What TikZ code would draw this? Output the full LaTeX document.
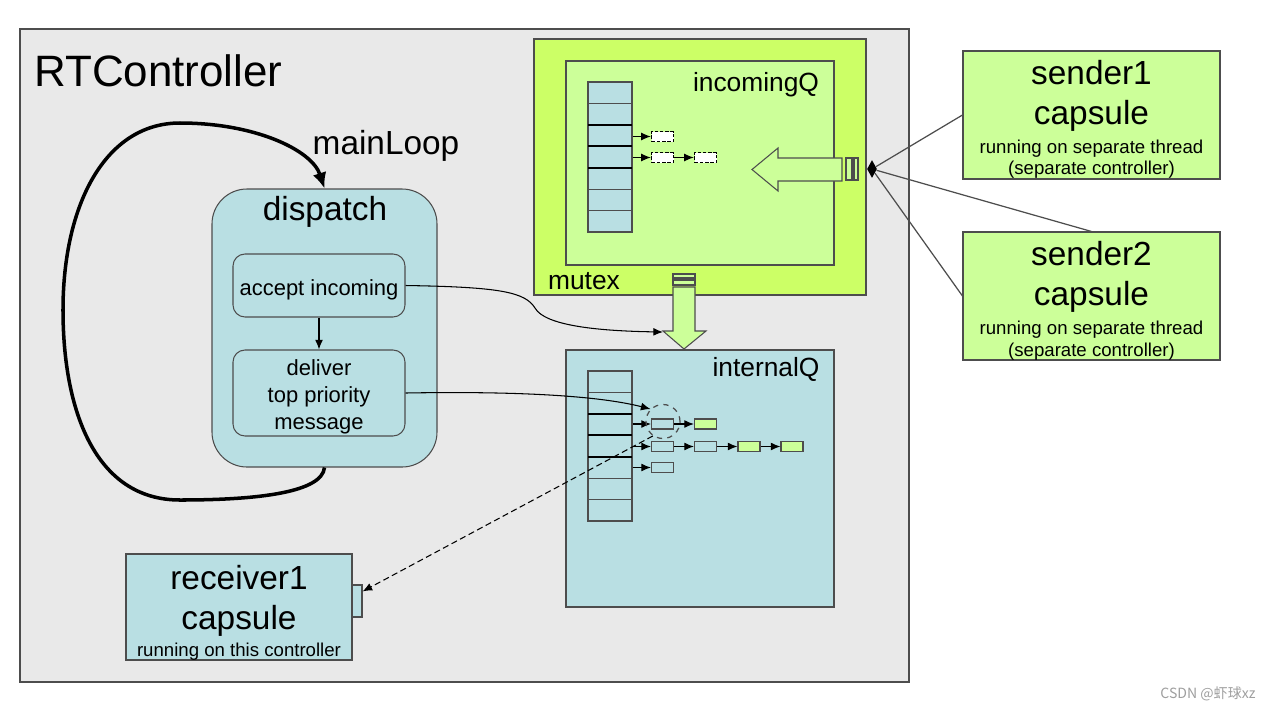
\documentclass[tikz,border=0pt]{standalone}
\usepackage{fontspec}
\setmainfont{Liberation Sans}
\newfontfamily\cjkfont{Noto Sans CJK SC}
\usetikzlibrary{shapes.geometric,arrows.meta}
\definecolor{bggray}{HTML}{E9E9E9}
\definecolor{qblue}{HTML}{B9DFE3}
\definecolor{lgreen}{HTML}{CCFF99}
\definecolor{mgreen}{HTML}{CCFF66}
\definecolor{edge}{HTML}{4D4D4D}
\newcommand{\titlesize}{\fontsize{19}{22.7}\selectfont}
\tikzset{every node/.style={align=center}, >={Latex[length=5.5pt,width=4.5pt]},
  sz/.style 2 args={minimum width=#1*0.02cm, minimum height=#2*0.02cm},
  box/.style={draw=edge, line width=0.6pt, inner sep=0pt},
  lab/.style={inner sep=0pt, font=\fontsize{15}{18}\selectfont},
  biglab/.style={inner sep=0pt, font=\titlesize},
  captxt/.style={inner sep=0pt, font=\fontsize{10.6}{22.7}\selectfont},
  steptxt/.style={inner sep=0pt, font=\fontsize{12.5}{15.3}\selectfont},
  msg/.style={box, sz={22}{10}},
  dmsg/.style={draw=black, fill=white, dashed, dash pattern=on 2pt off 1pt, line width=0.8pt, inner sep=0pt, sz={22}{10}},
  qarr/.style={->, line width=0.6pt}}

\begin{document}
\begin{tikzpicture}[x=0.02cm, y=-0.02cm]
\useasboundingbox (0,0) rectangle (1268,711);
\fill[white] (0,0) rectangle (1268,711);

% controller
\node[box, fill=bggray, sz={889}{653}] (ctrl) at (464.5,355.5) {};
\node[anchor=west, inner sep=0pt, font=\fontsize{25}{30}\selectfont] (ctrllab) at (34,71) {RTController};

% mutex and incoming queue
\node[box, fill=mgreen, sz={332}{256}] (mutex) at (700,167) {};
\node[lab] (mutexlab) at (584,281) {mutex};
\node[box, fill=lgreen, sz={268}{204}] (inq) at (700,163) {};
\node[lab] (inqlab) at (756,85) {incomingQ};
\node[box, fill=qblue, sz={44}{150}] (incol) at (610,157) {};
\foreach \i in {1,5,6} \draw[edge, line width=0.6pt] (588,82+\i*21.43) -- (632,82+\i*21.43);
\foreach \i in {2,3,4} \draw[line width=1.1pt] (588,82+\i*21.43) -- (632,82+\i*21.43);
\node[dmsg] (a1) at (662.5,136.5) {};
\node[dmsg] (a2) at (662.5,157.5) {};
\node[dmsg] (a3) at (705.5,157.5) {};
\draw[qarr] (incol.east |- a1) -- (a1);
\draw[qarr] (incol.east |- a2) -- (a2);
\draw[qarr] (a2) -- (a3);

% put arrow and port
\draw[edge, fill=lgreen, line width=0.6pt] (842,158) -- (778,158) -- (778,148) -- (752,169.5) -- (778,191) -- (778,181) -- (842,181) -- cycle;
\draw[edge, fill=lgreen, line width=0.6pt] (846,158) rectangle (852,180) (854,158) rectangle (858,180);
\node[diamond, fill=black, inner sep=0pt, sz={10}{18}] (jn) at (872,169) {};

% take arrow
\draw[edge, fill=lgreen, line width=0.6pt] (673,274) rectangle (695,278) (673,280) rectangle (695,285);
\draw[edge, fill=lgreen, line width=0.6pt] (673,287) -- (695,287) -- (695,331) -- (706,331) -- (684,349) -- (663,331) -- (673,331) -- cycle;
\coordinate (take) at (663,332);

% internal queue
\node[box, fill=qblue, sz={268}{257}] (intq) at (700,478.5) {};
\node[lab] (intqlab) at (766,369) {internalQ};
\node[box, fill=qblue, sz={44}{150}] (intcol) at (610,446) {};
\foreach \i in {1,5,6} \draw[edge, line width=0.6pt] (588,371+\i*21.43) -- (632,371+\i*21.43);
\foreach \i in {2,3,4} \draw[line width=1.1pt] (588,371+\i*21.43) -- (632,371+\i*21.43);
\node[msg, fill=qblue] (b1) at (662.5,424) {};
\node[msg, fill=lgreen] (b2) at (705.5,424) {};
\node[msg, fill=qblue] (c1) at (662.5,446.5) {};
\node[msg, fill=qblue] (c2) at (705.5,446.5) {};
\node[msg, fill=lgreen] (c3) at (749,446.5) {};
\node[msg, fill=lgreen] (c4) at (792,446.5) {};
\node[msg, fill=qblue] (d1) at (662.5,467.5) {};
\draw[qarr] (intcol.east |- b1) -- (b1);
\draw[qarr] (b1) -- (b2);
\draw[qarr] (intcol.east |- c1) -- (c1);
\draw[qarr] (c1) -- (c2);
\draw[qarr] (c2) -- (c3);
\draw[qarr] (c3) -- (c4);
\draw[qarr] (intcol.east |- d1) -- (d1);
\node[circle, draw=edge, dashed, line width=0.7pt, inner sep=0pt, minimum size=34*0.02cm] (pick) at (663,421.5) {};

% dispatch
\node[box, fill=qblue, rounded corners=0.7cm, sz={225}{278}] (disp) at (324.5,328) {};
\node[biglab] (displab) at (325,212) {dispatch};
\node[box, fill=qblue, rounded corners=0.24cm, sz={172}{63}] (acc) at (319,285.5) {};
\node[steptxt] (acctxt) at (319,289.5) {accept incoming};
\node[box, fill=qblue, rounded corners=0.24cm, sz={172}{86}] (dlv) at (319,393) {};
\node[steptxt] (dlvtxt) at (319,396.5) {deliver\\top priority\\message};
\draw[->, line width=0.6pt] (acc) -- (dlv);
\draw[line width=2pt, -{Latex[length=9pt,width=8pt]}] (disp.south) .. controls (322,492) and (260,500) .. (180,500)
  .. controls (95,500) and (63,410) .. (63,310) .. controls (63,205) and (105,123) .. (180,123)
  .. controls (255,123) and (312,150) .. (disp.north);
\node[biglab] (looplab) at (386,146) {mainLoop};

\draw[->, line width=0.6pt] (acc.east) .. controls (500,287) and (525,292) .. (535,308) .. controls (545,326) and (600,331) .. (take);
\draw[->, line width=0.6pt] (dlv.east) .. controls (520,391) and (600,396) .. (pick.135);

% receiver
\node[box, fill=qblue, sz={226}{106}] (rcv) at (239,607) {};
\node[captxt] (rcvtxt) at (239,613) {\titlesize receiver1\\ \titlesize capsule\\[-7.4pt] running on this controller};
\node[box, fill=qblue, sz={10}{32}] (rport) at (357,601) {};
\draw[->, dashed, dash pattern=on 3.5pt off 2pt, line width=0.6pt] (pick.235) -- (rport.60);

% senders
\node[box, fill=lgreen, sz={257}{128}] (snd1) at (1091.5,115) {};
\node[captxt] (snd1txt) at (1091.5,119.5) {\titlesize sender1\\ \titlesize capsule\\[-6.3pt] running on separate thread\\[-10.2pt] (separate controller)};
\node[box, fill=lgreen, sz={257}{128}] (snd2) at (1091.5,296) {};
\node[captxt] (snd2txt) at (1091.5,301) {\titlesize sender2\\ \titlesize capsule\\[-6.3pt] running on separate thread\\[-10.2pt] (separate controller)};
\draw[edge, line width=0.7pt] (snd1.west) -- (jn);
\draw[edge, line width=0.7pt] (snd2.north) -- (jn);
\draw[edge, line width=0.7pt] (snd2.west) -- (jn);

\node[text=gray!75, font=\cjkfont\fontsize{8}{9}\selectfont, inner sep=0pt] (wm) at (1208,694) {CSDN @虾球xz};
\end{tikzpicture}
\end{document}
